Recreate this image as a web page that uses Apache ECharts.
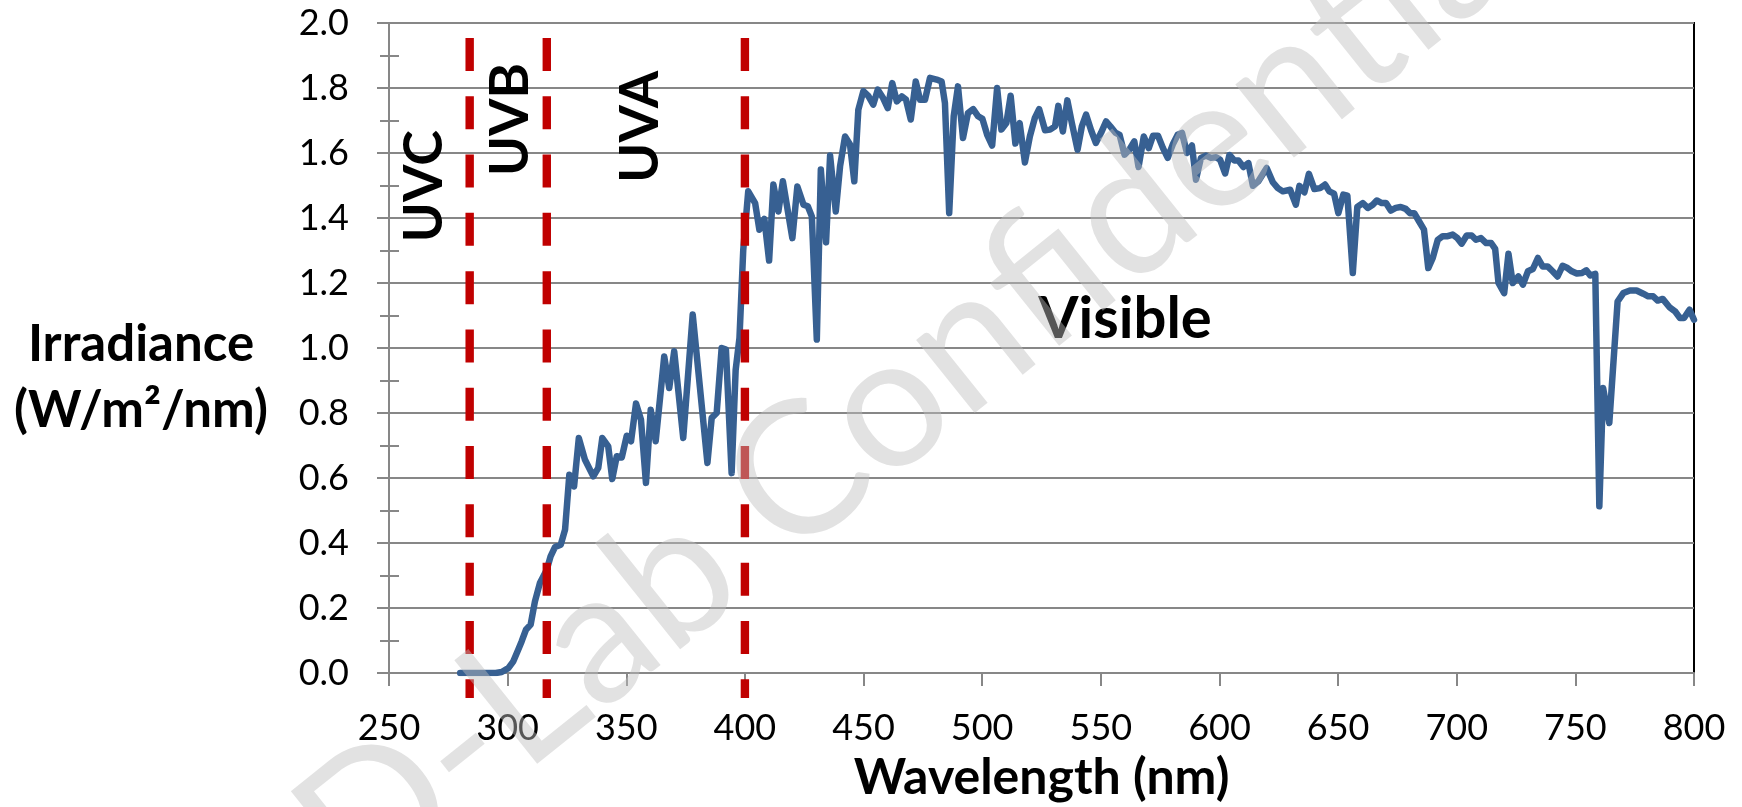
<!DOCTYPE html>
<html><head><meta charset="utf-8">
<script src="https://cdn.jsdelivr.net/npm/echarts@6/dist/echarts.min.js"></script>
<style>html,body{margin:0;padding:0;background:#fff}#c{width:1742px;height:807px}</style>
</head><body><div id="c"></div>
<script>
// ---- data ----
const wavelengths = [
280,285,290,295,297.5,300.3,302.4,304.5,305.9,307.7,309.7,311.5,313.6,316.5,318.1,320,322.4,324.2,326,328,
330,332.6,336.1,338.2,339.9,342.4,344.1,346,348.1,350.2,352,354.1,356.2,358.3,360.3,362.4,366,368.1,370.2,374,
378,384.2,386,388.1,390.2,392,394.4,396.1,397.7,399.3,401.4,404.3,406.1,408.2,410.2,412,414.1,416,420,422.1,
424.7,426.5,428.2,430.3,432,434.2,435.9,438.3,440.1,442.2,444.3,446.1,447.8,449.9,452,454.1,456,458.1,460.2,462.1,
464,466.1,467.9,469.9,472,473.8,475.9,478,480.8,482.9,484.3,486.1,488,489.8,491.9,494,496.2,498.3,500.1,502.1,
504.2,506.3,508.1,510.2,512,514,515.8,518,520.1,522.2,524,526.5,528.6,530.7,532.1,534,535.9,537.8,540.2,542,
543.8,545.9,547.9,550.1,552.2,554,556.1,557.9,560,562,564.1,565.9,568.1,570.2,572,574.1,576.2,578.2,580.3,582.4,
584.2,586.3,588.4,590.1,592.2,594.3,596.4,598.6,600.3,602.4,604.2,606.2,608,610.1,612.2,614.1,616.4,619.9,622.5,624.6,
626.7,629.8,632.2,633.7,635.8,637.7,640,642.4,644.5,646.3,648.3,650.1,652.2,653.9,656.2,658.1,660.4,662.5,664.6,666.3,
668.4,670.2,672.2,674.3,676.4,678.5,680.3,682.1,684.1,686.2,688,689.9,692,694.1,696.2,698.3,700.3,702.1,704.2,706.3,
708.1,710.2,712.4,714.5,716.2,717.6,720,721.8,723.6,726,727.9,730,732.1,734.2,736.2,738.3,740.4,742.5,744.6,746.7,
748.5,750.6,752.8,754.6,756.3,758.4,760.1,761.7,764.3,767.8,770.2,773,775.8,778.6,780.7,782.8,784.7,786.8,789.6,792,
794.1,795.8,798.1,800
];
const irradiance = [
0,0,0,0,0.003,0.015,0.036,0.072,0.097,0.133,0.149,0.22,0.277,0.318,0.359,0.388,0.395,0.441,0.61,0.574,
0.723,0.656,0.605,0.631,0.723,0.697,0.597,0.667,0.663,0.73,0.713,0.829,0.779,0.585,0.81,0.713,0.974,0.877,0.99,0.723,
1.103,0.646,0.785,0.8,1.0,0.995,0.615,0.933,1.03,1.302,1.482,1.446,1.364,1.397,1.269,1.503,1.42,1.513,1.338,1.497,
1.441,1.436,1.405,1.026,1.549,1.325,1.592,1.42,1.559,1.651,1.626,1.513,1.733,1.79,1.776,1.749,1.795,1.771,1.738,1.815,
1.759,1.774,1.764,1.703,1.82,1.764,1.764,1.831,1.826,1.82,1.754,1.415,1.713,1.805,1.646,1.723,1.735,1.713,1.705,1.656,
1.623,1.8,1.672,1.692,1.776,1.629,1.692,1.571,1.651,1.708,1.735,1.67,1.672,1.682,1.745,1.666,1.762,1.692,1.61,1.682,
1.718,1.67,1.631,1.662,1.697,1.682,1.663,1.656,1.595,1.61,1.636,1.557,1.651,1.615,1.653,1.653,1.615,1.585,1.626,1.656,
1.662,1.6,1.623,1.518,1.585,1.592,1.585,1.587,1.579,1.537,1.594,1.577,1.577,1.557,1.569,1.499,1.513,1.554,1.51,1.492,
1.482,1.487,1.441,1.499,1.479,1.536,1.489,1.492,1.503,1.482,1.475,1.415,1.472,1.469,1.231,1.434,1.446,1.431,1.441,1.454,
1.446,1.446,1.423,1.431,1.434,1.428,1.415,1.415,1.39,1.364,1.246,1.277,1.333,1.344,1.344,1.349,1.338,1.321,1.346,1.346,
1.333,1.338,1.323,1.323,1.305,1.2,1.169,1.29,1.2,1.22,1.195,1.236,1.243,1.277,1.251,1.251,1.236,1.22,1.253,1.246,
1.236,1.229,1.231,1.239,1.223,1.228,0.513,0.877,0.769,1.143,1.169,1.177,1.177,1.167,1.159,1.159,1.146,1.151,1.126,1.113,
1.092,1.092,1.118,1.087
];
const uvBoundaries = [284, 316.5, 400];       // nm, red dashed boundaries
const bandNames = ['UVC', 'UVB', 'UVA', 'Visible'];
const xAxisTitle = 'Wavelength (nm)';
const yAxisTitleLines = ['Irradiance', '(W/m²/nm)'];
const watermarkText = 'D-Lab Confidential';

// ---- chart ----
const chart = echarts.init(document.getElementById('c'), null, {renderer: 'canvas'});
const grey = '#878787';
const FONT = 'Lato';

const spectrum = wavelengths.map((w, i) => [w, irradiance[i]]);

const boundarySeries = uvBoundaries.map(b => ({
  type: 'line',
  data: [[b, 1.954], [b, -0.077]],
  clip: false,
  symbol: 'none',
  silent: true,
  z: 4,
  lineStyle: {color: '#C00000', width: 8.4, type: [33, 25.3], cap: 'butt'}
}));

const labelAnchors = [[265.2, 1.498, 90], [301.4, 1.703, 90], [356.2, 1.681, 90], [560.2, 1.087, 0]];

const option = {
  animation: false,
  backgroundColor: '#fff',
  grid: {left: 389, right: 48, top: 23, bottom: 134, show: true, borderColor: '#000', borderWidth: 2,
         backgroundColor: 'transparent', containLabel: false, outerBoundsMode: 'none'},
  xAxis: {
    type: 'value', min: 250, max: 800, interval: 50,
    axisLine: {show: true, lineStyle: {color: grey, width: 2}},
    axisTick: {show: true, length: 13, lineStyle: {color: grey, width: 2}},
    splitLine: {show: false},
    axisLabel: {fontFamily: FONT, fontSize: 36, color: '#000', margin: 37},
    name: xAxisTitle, nameLocation: 'middle', nameGap: 80,
    nameTextStyle: {fontFamily: FONT, fontWeight: 'bold', fontSize: 50, color: '#000'}
  },
  yAxis: [{
    type: 'value', min: 0, max: 2, interval: 0.2,
    axisLine: {show: true, lineStyle: {color: grey, width: 2}},
    axisTick: {show: true, length: 12, lineStyle: {color: grey, width: 2}},
    minorTick: {show: true, splitNumber: 2, length: 9, lineStyle: {color: grey, width: 2}},
    splitLine: {show: true, lineStyle: {color: grey, width: 2}},
    axisLabel: {formatter: v => v.toFixed(1), fontFamily: FONT, fontSize: 36, color: '#000', margin: 40},
    name: '{s| }\n{t|' + yAxisTitleLines[0] + '}\n{t|' + yAxisTitleLines[1] + '}',
    nameLocation: 'middle', nameRotate: 0, nameGap: 248,
    nameTextStyle: {align: 'center', verticalAlign: 'middle',
      rich: {
        s: {fontFamily: FONT, fontSize: 20, lineHeight: 60, color: '#000'},
        t: {fontFamily: FONT, fontWeight: 'bold', fontSize: 51, lineHeight: 66, color: '#000', align: 'center'}
      }}
  }, {
    type: 'value', min: 0, max: 2, interval: 0.2, position: 'left', offset: 0,
    axisLine: {show: false},
    axisTick: {show: true, inside: true, length: 10, lineStyle: {color: grey, width: 2}},
    minorTick: {show: true, splitNumber: 2, length: 10, lineStyle: {color: grey, width: 2}},
    splitLine: {show: false},
    axisLabel: {show: false}
  }],
  series: [{
    type: 'line', data: spectrum, showSymbol: false, symbol: 'none', z: 3,
    lineStyle: {color: '#376092', width: 6.5, cap: 'round', join: 'round'}
  }].concat(boundarySeries).concat([{
    type: 'scatter', symbolSize: 1, z: 5, silent: true,
    itemStyle: {color: 'transparent', opacity: 1},
    data: bandNames.map((n, i) => ({name: n, value: [labelAnchors[i][0], labelAnchors[i][1]],
      label: {rotate: labelAnchors[i][2], fontSize: labelAnchors[i][2] ? 54 : 58}})),
    label: {show: true, position: 'inside', formatter: '{b}', fontFamily: FONT, fontWeight: 'bold',
            color: '#000', opacity: 1, align: 'center', verticalAlign: 'middle'}
  }]),
  graphic: [{
    type: 'text', x: 922, y: 379, rotation: 38.7 * Math.PI / 180, z: 100, silent: true,
    style: {text: watermarkText, font: '185px Lato', fill: 'rgba(190,190,190,0.45)',
            align: 'center', verticalAlign: 'middle'}
  }]
};
chart.setOption(option);
</script>
</body></html>
